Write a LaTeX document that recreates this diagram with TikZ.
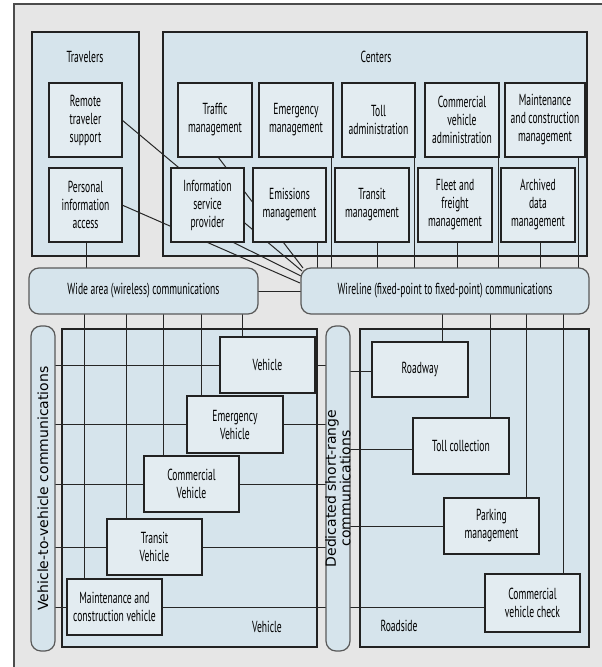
\documentclass[tikz,border=0pt]{standalone}
\usepackage{fontspec}
\setmainfont{PT Sans}[FakeStretch=0.6]
\newfontfamily\vfont{DejaVu Sans}
\usetikzlibrary{calc}
\definecolor{bgray}{HTML}{E6E6E6}
\definecolor{grpblue}{HTML}{D6E4EC}
\definecolor{boxblue}{HTML}{E3ECF1}
\definecolor{edge}{HTML}{222222}
\pgfdeclarelayer{back}\pgfdeclarelayer{mid}
\pgfsetlayers{back,mid,main}
\newcommand\mainlab{\fontsize{16}{18}\selectfont}
\newcommand\rotlab{\vfont\fontsize{14}{11}\selectfont}
\newcommand\placebox[7][box]{\node[#1, minimum width=#5pt-#3pt, minimum height=#6pt-#4pt] (#2) at ({(#3+#5)/2},{(#4+#6)/2}) {#7};}
\begin{document}
\begin{tikzpicture}[x=1pt,y=-1pt,
  grp/.style={draw=edge, fill=grpblue, line width=1.2pt, inner sep=0pt, outer sep=0pt},
  box/.style={draw=edge, fill=boxblue, line width=1.2pt, inner sep=0pt, outer sep=0pt, align=center, font=\mainlab},
  comm/.style={draw=black!65, fill=grpblue, line width=1.2pt, rounded corners=10pt, inner sep=0pt, outer sep=0pt, font=\mainlab},
  wire/.style={draw=black!85, line width=1pt},
  lab/.style={inner sep=0pt, font=\mainlab},
  rlab/.style={inner sep=0pt, font=\rotlab, rotate=90, align=center}]
\useasboundingbox (0,0) rectangle (602,667);
\begin{pgfonlayer}{back}
\fill[bgray] (14,4) rectangle (602,667);
\draw[black!70, line width=1.3pt] (14,667) -- (14,4) -- (602,4);
\placebox[grp]{trav}{32}{32}{139}{256}{}
\placebox[grp]{cent}{163}{32}{587}{256}{}
\placebox[grp]{vehgrp}{62}{329}{317}{647}{}
\placebox[grp]{roadgrp}{360}{329}{589}{647}{}
\end{pgfonlayer}
\node[lab] (travt) at (85,57) {Travelers};
\node[lab] (centt) at (376,57) {Centers};
\node[lab] (vehgrpt) at (267,627) {Vehicle};
\node[lab] (roadgrpt) at (399,626) {Roadside};
% travelers
\placebox{rts}{49}{83}{122}{157}{Remote\\traveler\\support}
\placebox{pia}{49}{168}{122}{242}{Personal\\information\\access}
% centers
\placebox{tm}{178}{83}{252}{157}{Traffic\\management}
\placebox{em}{259}{83}{333}{157}{Emergency\\management}
\placebox{ta}{342}{83}{415}{157}{Toll\\administration}
\placebox{cva}{425}{83}{499}{157}{Commercial\\vehicle\\administration}
\placebox{mcm}{505}{83}{585}{157}{Maintenance\\and construction\\management}
\placebox{isp}{171}{168}{244}{242}{Information\\service\\provider}
\placebox{emi}{253}{168}{326}{242}{Emissions\\management}
\placebox{trm}{335}{168}{409}{242}{Transit\\management}
\placebox{ffm}{418}{168}{492}{242}{Fleet and\\freight\\management}
\placebox{adm}{501}{168}{575}{242}{Archived\\data\\management}
% communications
\placebox[comm]{wide}{29}{268}{258}{314}{Wide area (wireless) communications}
\placebox[comm]{wire}{301}{268}{589}{314}{Wireline (fixed-point to fixed-point) communications}
\placebox[comm]{v2v}{31}{326}{55}{651}{}
\placebox[comm]{dsrc}{326}{326}{350}{651}{}
\node[rlab] (v2vt) at (v2v.center) {Vehicle-to-vehicle communications};
\node[rlab] (dsrct) at (dsrc.center) {Dedicated short-range\\communications};
% vehicles
\placebox{veh}{220}{337}{315}{393}{Vehicle}
\placebox{ev}{187}{396}{283}{453}{Emergency\\Vehicle}
\placebox{cv}{144}{456}{239}{512}{Commercial\\Vehicle}
\placebox{tv}{107}{519}{202}{575}{Transit\\Vehicle}
\placebox{mcv}{67}{579}{162}{635}{Maintenance and\\construction vehicle}
% roadside
\placebox{road}{372}{342}{468}{397}{Roadway}
\placebox{toll}{413}{418}{509}{474}{Toll collection}
\placebox{park}{444}{498}{539}{554}{Parking\\management}
\placebox{cvc}{485}{574}{580}{632}{Commercial\\vehicle check}
% hubs on the wireline corner
\coordinate (h1) at ([shift={(2,0)}]wire.north west);
\coordinate (h2) at ([shift={(1,3)}]wire.north west);
\coordinate (h3) at ([shift={(0,8)}]wire.north west);
\coordinate (h4) at ([shift={(-1,15)}]wire.north west);
\begin{pgfonlayer}{mid}
% travelers / centers diagonals
\draw[wire] (rts.east) -- (h2);
\draw[wire] ([xshift=3pt]tm.south) -- (h1);
\draw[wire] (pia.east) -- (h4);
\draw[wire] ([xshift=25pt]isp.south) -- (h3);
\draw[wire] ([xshift=1pt]pia.south) -- ([xshift=1pt]pia.south |- wide.north);
\draw[wire] (wide.east) -- (wire.west);
% centers verticals
\draw[wire] ([xshift=-2pt]em.south east) -- ([xshift=-2pt]em.south east |- wire.north);
\draw[wire] ([xshift=-9pt]emi.south east) -- ([xshift=-9pt]emi.south east |- wire.north);
\draw[wire] ([xshift=5pt]trm.south) -- ([xshift=5pt]trm.south |- wire.north);
\draw[wire] ([xshift=-1pt]ta.south east) -- ([xshift=-1pt]ta.south east |- wire.north);
\draw[wire] ([xshift=2pt]ffm.south) -- ([xshift=2pt]ffm.south |- wire.north);
\draw[wire] ([xshift=-1pt]cva.south east) -- ([xshift=-1pt]cva.south east |- wire.north);
\draw[wire] ([xshift=2pt]adm.south) -- ([xshift=2pt]adm.south |- wire.north);
\draw[wire] ([xshift=-7pt]mcm.south east) -- ([xshift=-7pt]mcm.south east |- wire.north);
% wide area to vehicles
\draw[wire] ([xshift=17pt]mcv.north west) -- ([xshift=17pt]mcv.north west |- wide.south);
\draw[wire] ([xshift=19pt]tv.north west) -- ([xshift=19pt]tv.north west |- wide.south);
\draw[wire] ([xshift=19pt]cv.north west) -- ([xshift=19pt]cv.north west |- wide.south);
\draw[wire] ([xshift=14pt]ev.north west) -- ([xshift=14pt]ev.north west |- wide.south);
\draw[wire] ([xshift=22pt]veh.north west) -- ([xshift=22pt]veh.north west |- wide.south);
% vehicle horizontals
\foreach \b in {veh,ev,cv,tv,mcv}{
  \draw[wire] (\b.west) -- (\b.west -| v2v.east);
  \draw[wire] (\b.east) -- (\b.east -| dsrc.west);
}
% wireline to roadside
\draw[wire] ([xshift=70pt]road.north west) -- ([xshift=70pt]road.north west |- wire.south);
\draw[wire] ([xshift=77pt]toll.north west) -- ([xshift=77pt]toll.north west |- wire.south);
\draw[wire] ([xshift=82pt]park.north west) -- ([xshift=82pt]park.north west |- wire.south);
\draw[wire] ([xshift=78pt]cvc.north west) -- ([xshift=78pt]cvc.north west |- wire.south);
% dsrc to roadside
\draw[wire] ([yshift=-1.5pt]road.west) -- ([yshift=-1.5pt]road.west -| dsrc.east);
\draw[wire] ([yshift=-3pt]toll.west) -- ([yshift=-3pt]toll.west -| dsrc.east);
\draw[wire] (park.west) -- (park.west -| dsrc.east);
\draw[wire] ([yshift=-4pt]cvc.west) -- ([yshift=-4pt]cvc.west -| dsrc.east);
\end{pgfonlayer}
\end{tikzpicture}
\end{document}
